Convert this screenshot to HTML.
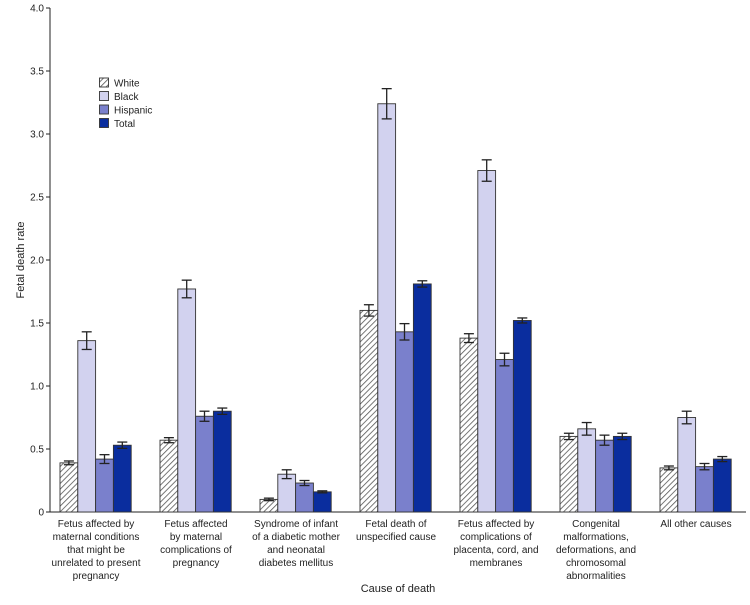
<!DOCTYPE html>
<html><head><meta charset="utf-8"><style>
body{margin:0;background:#fff;font-family:"Liberation Sans",sans-serif}
svg text{font-family:"Liberation Sans",sans-serif;fill:#222}
</style></head><body>
<svg id="c" width="750" height="600">
<defs><pattern id="hatch" patternUnits="userSpaceOnUse" width="4" height="4" patternTransform="rotate(45)"><rect width="4" height="4" fill="#fff"/><line x1="0" y1="0" x2="0" y2="4" stroke="#555" stroke-width="1.6"/></pattern></defs>
</svg>
<script>
const categories=[["Fetus affected by","maternal conditions","that might be","unrelated to present","pregnancy"],["Fetus affected","by maternal","complications of","pregnancy"],["Syndrome of infant","of a diabetic mother","and neonatal","diabetes mellitus"],["Fetal death of","unspecified cause"],["Fetus affected by","complications of","placenta, cord, and","membranes"],["Congenital","malformations,","deformations, and","chromosomal","abnormalities"],["All other causes"]];
const seriesNames=["White","Black","Hispanic","Total"];
const white=[0.39,0.57,0.10,1.60,1.38,0.60,0.35];
const black=[1.36,1.77,0.30,3.24,2.71,0.66,0.75];
const hispanic=[0.42,0.76,0.23,1.43,1.21,0.57,0.36];
const total=[0.53,0.80,0.16,1.81,1.52,0.60,0.42];
const whiteErr=[0.015,0.02,0.01,0.045,0.035,0.025,0.015];
const blackErr=[0.07,0.07,0.035,0.12,0.085,0.05,0.05];
const hispanicErr=[0.035,0.04,0.02,0.065,0.05,0.04,0.025];
const totalErr=[0.025,0.025,0.008,0.025,0.02,0.025,0.02];
const yTicks=["0","0.5","1.0","1.5","2.0","2.5","3.0","3.5","4.0"];
const NS="http://www.w3.org/2000/svg",svg=document.getElementById('c');
const x0=46,gw=100,y=v=>512-v*126;
function mk(t,a,p){const e=document.createElementNS(NS,t);for(const k in a)e.setAttribute(k,a[k]);(p||svg).appendChild(e);return e;}
const fills=["url(#hatch)","#d2d2ef","#7a80cc","#0a2d9e"];
const series=[white,black,hispanic,total],errs=[whiteErr,blackErr,hispanicErr,totalErr];
yTicks.forEach(t=>{const v=parseFloat(t);
const tk=mk('line',{x1:46,x2:50,y1:y(v),y2:y(v),stroke:'#222'});


const tx=mk('text',{x:44,y:y(v)+3.5,'text-anchor':'end','font-size':10});tx.textContent=t;

});
const ya=mk('line',{x1:50,x2:50,y1:8,y2:512,stroke:'#222'});


const xa=mk('line',{x1:50,x2:746,y1:512,y2:512,stroke:'#222'});


categories.forEach((c,i)=>{
 const gx=x0+gw*i+14;
 series.forEach((s,j)=>{
  const bx=gx+j*17.8,v=s[i],e=errs[j][i];
  const r=mk('rect',{x:bx,y:y(v),width:17.8,height:512-y(v),fill:fills[j],stroke:'#333','stroke-width':0.9});
  
  
  const cx=bx+8.9,g=mk('g',{stroke:'#222','stroke-width':1.3});
  
  
  mk('line',{x1:cx,x2:cx,y1:y(v+e),y2:y(v-e)},g);
  mk('line',{x1:cx-5,x2:cx+5,y1:y(v+e),y2:y(v+e)},g);
  mk('line',{x1:cx-5,x2:cx+5,y1:y(v-e),y2:y(v-e)},g);
 });
 const tx=mk('text',{'text-anchor':'middle','font-size':10});
 
 
 c.forEach((l,k)=>{const ts=mk('tspan',{x:x0+gw*i+50,y:527+k*13},tx);ts.textContent=l;});
});
const xt=mk('text',{x:398,y:592,'text-anchor':'middle','font-size':11});xt.textContent="Cause of death";


const yt=mk('text',{x:0,y:0,'text-anchor':'middle','font-size':11,transform:'translate(24,260) rotate(-90)'});yt.textContent="Fetal death rate";


seriesNames.forEach((n,j)=>{
 const g=mk('g',{});
 
 
 mk('rect',{x:99.5,y:78+j*13.5,width:9,height:9,fill:fills[j],stroke:'#333','stroke-width':0.9},g);
 const t=mk('text',{x:114,y:86.5+j*13.5,'font-size':10},g);t.textContent=n;
});
</script>
</body></html>
